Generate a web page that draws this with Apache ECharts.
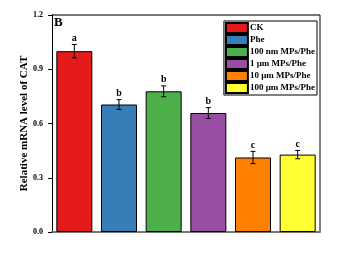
<!DOCTYPE html>
<html><head><meta charset="utf-8">
<script src="https://cdn.jsdelivr.net/npm/echarts@6/dist/echarts.min.js"></script>
<style>html,body{margin:0;padding:0;background:#fff}#c{width:340px;height:253px}</style>
</head><body><div id="c"></div>
<script>
const categories = ['CK','Phe','100 nm MPs/Phe','1 μm MPs/Phe','10 μm MPs/Phe','100 μm MPs/Phe'];
const values = [1.0, 0.705, 0.778, 0.658, 0.412, 0.428];
const errors = [0.037, 0.027, 0.03, 0.03, 0.034, 0.023];
const letters = ['a','b','b','b','c','c'];
const colors = ['#e41a1c','#377eb8','#4daf4a','#984ea3','#ff7f00','#ffff33'];
const yTicks = [0, 0.3, 0.6, 0.9, 1.2];

const FONT = 'Liberation Serif';
const chart = echarts.init(document.getElementById('c'));
const barSeries = categories.map((name, i) => ({
  name: name, type: 'bar', barGap: '-100%', barWidth: 36,
  data: categories.map((_, j) => j === i ? values[i] : '-'),
  itemStyle: { color: colors[i], borderColor: '#000', borderWidth: 1 },
  z: 2
}));
const errSeries = {
  type: 'custom', z: 5,
  data: values.map((v, i) => [i, v, errors[i], letters[i]]),
  renderItem: function (params, api) {
    const x = api.coord([api.value(0), 0])[0];
    const v = api.value(1), e = api.value(2);
    const hi = api.coord([api.value(0), v + e])[1];
    const lo = api.coord([api.value(0), v - e])[1];
    const st = { stroke: '#000', lineWidth: 1 };
    return { type: 'group', children: [
      { type: 'line', shape: { x1: x, y1: hi, x2: x, y2: lo }, style: st },
      { type: 'line', shape: { x1: x - 2.5, y1: hi, x2: x + 2.5, y2: hi }, style: st },
      { type: 'line', shape: { x1: x - 2.5, y1: lo, x2: x + 2.5, y2: lo }, style: st },
      { type: 'text', style: { text: letters[params.dataIndex], x: x, y: hi - 1, align: 'center', verticalAlign: 'bottom',
        font: 'bold 10px "' + FONT + '"', fill: '#000' } }
    ]};
  }
};
chart.setOption({
  animation: false,
  grid: { left: 52, right: 20, top: 15, bottom: 21, show: true, borderColor: 'transparent' },
  legend: {
    data: categories, orient: 'vertical', right: 23, top: 21,
    itemWidth: 22, itemHeight: 10, itemGap: 0, padding: [1, 2, 1, 1],
    borderColor: '#000', borderWidth: 1, icon: 'rect',
    textStyle: { fontFamily: FONT, fontWeight: 'bold', fontSize: 9, lineHeight: 10, color: '#000', padding: [0,0,0,-3] }
  },
  xAxis: {
    type: 'category', data: categories,
    axisLine: { lineStyle: { color: '#777', width: 2 } },
    axisTick: { alignWithLabel: true, length: 3, lineStyle: { color: '#000' } },
    axisLabel: { show: false }
  },
  yAxis: {
    type: 'value', min: 0, max: 1.2, interval: 0.3,
    name: 'Relative mRNA level of CAT', nameLocation: 'middle', nameGap: 22, nameMoveOverlap: false,
    nameTextStyle: { fontFamily: FONT, fontWeight: 'bold', fontSize: 11, color: '#000' },
    axisLine: { show: true, lineStyle: { color: '#000', width: 1 } },
    axisTick: { show: true, length: 4, lineStyle: { color: '#000' } },
    axisLabel: { fontFamily: FONT, fontWeight: 'bold', fontSize: 8, color: '#000', margin: 9,
      formatter: v => yTicks.indexOf(v) >= 0 ? v.toFixed(1) : '' },
    splitLine: { show: false }
  },
  graphic: [
    { type: 'line', shape: { x1: 52, y1: 15, x2: 320, y2: 15 }, style: { stroke: '#777', lineWidth: 2 } },
    { type: 'line', shape: { x1: 320, y1: 15, x2: 320, y2: 232 }, style: { stroke: '#000', lineWidth: 1 } },
    { type: 'text', left: 54, top: 16, style: { text: 'B', font: 'bold 13px "' + FONT + '"', fill: '#000' } }
  ],
  series: barSeries.concat([errSeries])
});
</script></body></html>
